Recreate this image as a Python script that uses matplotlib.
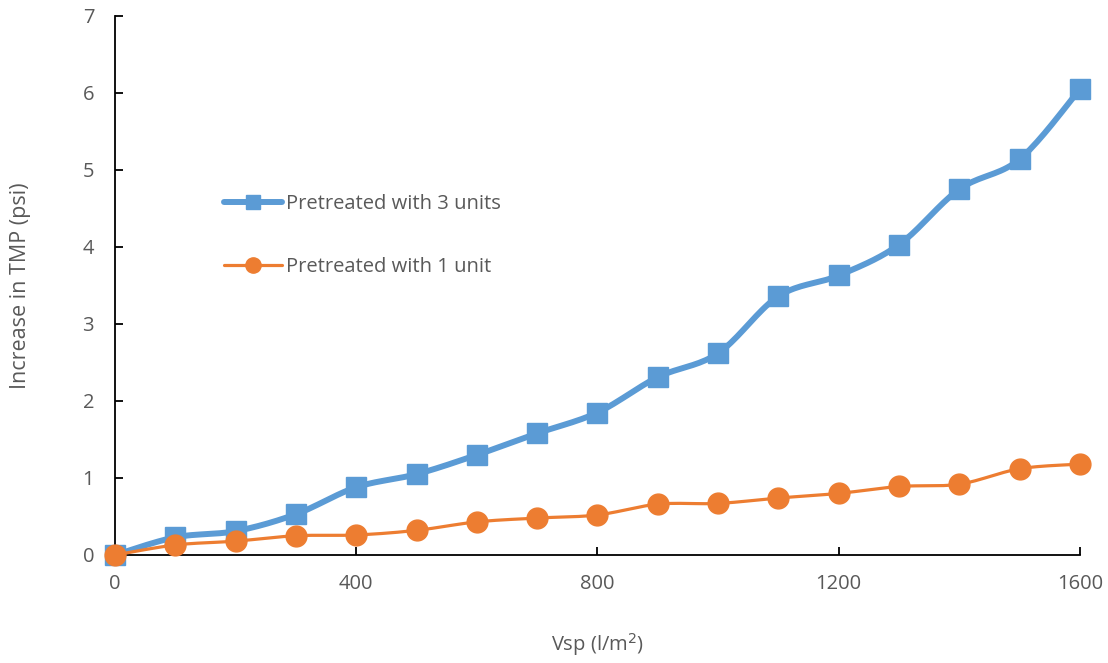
import numpy as np
import matplotlib
matplotlib.use("Agg")
import matplotlib.pyplot as plt
from matplotlib.lines import Line2D

# data
vsp = [0, 100, 200, 300, 400, 500, 600, 700, 800, 900, 1000, 1100, 1200, 1300, 1400, 1500, 1600]
tmp_3units = [0, 0.23, 0.31, 0.53, 0.88, 1.05, 1.30, 1.58, 1.85, 2.31, 2.62, 3.36, 3.63, 4.03, 4.75, 5.14, 6.05]
tmp_1unit = [0, 0.13, 0.18, 0.25, 0.26, 0.32, 0.43, 0.48, 0.52, 0.66, 0.67, 0.74, 0.80, 0.89, 0.92, 1.12, 1.18]

blue = "#5b9bd5"
orange = "#ed7d31"
grey = "#595959"

plt.rcParams['font.family'] = ['Open Sans', 'DejaVu Sans']


def smooth(x, y, n=20):
    # catmull-rom style curve through the points, like Excel's smoothed line
    x = np.asarray(x, float)
    y = np.asarray(y, float)
    px = np.concatenate([[x[0]], x, [x[-1]]])
    py = np.concatenate([[y[0]], y, [y[-1]]])
    xs, ys = [], []
    t = np.linspace(0, 1, n)
    for i in range(1, len(px) - 2):
        p0, p1, p2, p3 = (np.array([px[j], py[j]]) for j in (i - 1, i, i + 1, i + 2))
        c1 = p1 + (p2 - p0) / 6
        c2 = p2 - (p3 - p1) / 6
        b = ((1 - t) ** 3)[:, None] * p1 + (3 * (1 - t) ** 2 * t)[:, None] * c1 \
            + (3 * (1 - t) * t ** 2)[:, None] * c2 + (t ** 3)[:, None] * p2
        xs.extend(b[:, 0])
        ys.extend(b[:, 1])
    return xs, ys


fig = plt.figure(figsize=(11.08, 6.63), dpi=100)
ax = fig.add_axes([0.1038, 0.1629, 0.8709, 0.8130])

sx, sy = smooth(vsp, tmp_3units)
ax.plot(sx, sy, color=blue, lw=4.3, solid_capstyle='round', zorder=2)
ax.plot(vsp, tmp_3units, ls='none', marker='s', ms=14, color=blue, zorder=3)

sx, sy = smooth(vsp, tmp_1unit)
ax.plot(sx, sy, color=orange, lw=2.3, solid_capstyle='round', zorder=4)
ax.plot(vsp, tmp_1unit, ls='none', marker='o', ms=15, color=orange, zorder=5)

ax.set_xlim(0, 1600)
ax.set_ylim(0, 7)
ax.set_xticks([0, 400, 800, 1200, 1600])
ax.set_yticks(range(8))
ax.spines['top'].set_visible(False)
ax.spines['right'].set_visible(False)
for s in ('left', 'bottom'):
    ax.spines[s].set_linewidth(1.3)
ax.tick_params(direction='in', length=6, width=1.3, labelsize=14.5, labelcolor=grey)
ax.tick_params(axis='y', pad=15)
ax.tick_params(axis='x', pad=14)
for ln in ax.lines:
    ln.set_clip_on(False)

ax.set_xlabel("Vsp (l/m$^{2}$)", fontsize=14.5, color=grey, va='center')
ax.set_ylabel("Increase in TMP (psi)", fontsize=15.5, color=grey, va='center')
ax.xaxis.set_label_coords(0.5, -0.167)
ax.yaxis.set_label_coords(-0.098, 0.5)

handles = [
    Line2D([], [], color=blue, lw=4.3, marker='s', ms=10, solid_capstyle='round'),
    Line2D([], [], color=orange, lw=2.3, marker='o', ms=11, solid_capstyle='round'),
]
leg = ax.legend(handles, ["Pretreated with 3 units", "Pretreated with 1 unit"],
                loc='upper left', bbox_to_anchor=(0.094, 0.704), frameon=False,
                fontsize=14.5, handlelength=2.9, handletextpad=0.2, labelspacing=2.15)
for t in leg.get_texts():
    t.set_color(grey)

fig.savefig("out.png", dpi=100)
